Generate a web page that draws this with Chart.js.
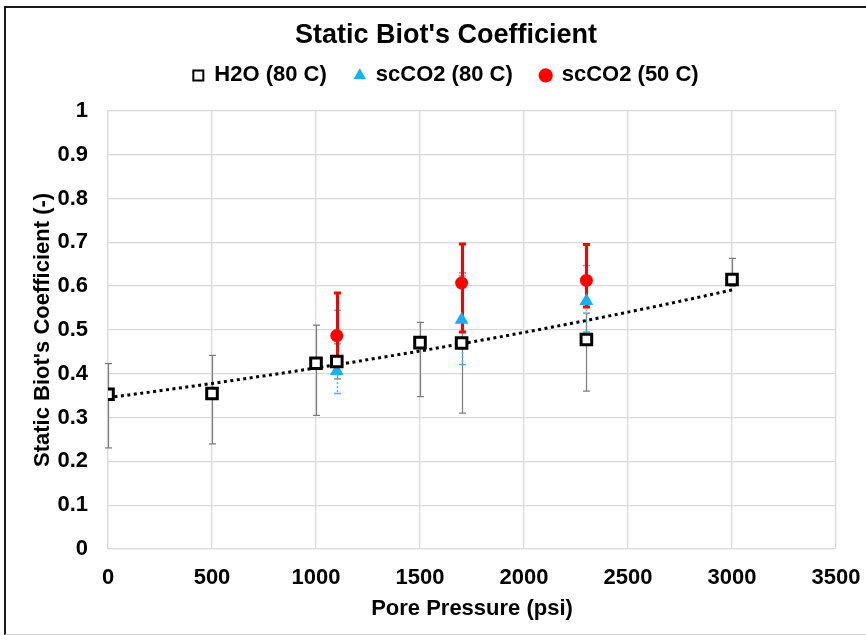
<!DOCTYPE html>
<html>
<head>
<meta charset="utf-8">
<script src="https://cdn.jsdelivr.net/npm/chart.js@4.4.1/dist/chart.umd.min.js"></script>
<style>
  html, body { margin: 0; padding: 0; background: #fff; }
  #wrap { position: relative; width: 866px; height: 635px; }
  #frame { position: absolute; left: 4px; top: 6px; width: 870px; height: 626px;
           border-left: 2px solid #1a1a1a; border-top: 2px solid #1a1a1a; border-bottom: 1px solid #d4d4d4;
           pointer-events: none; }
</style>
</head>
<body>
<div id="wrap">
  <canvas id="biotChart" width="866" height="635"></canvas>
  <div id="frame"></div>
</div>
<script>
// pore pressure (psi) and static Biot's coefficient
var pressureH2O = [0, 500, 1000, 1100, 1500, 1700, 2300, 3000];
var biotH2O = [0.353, 0.355, 0.424, 0.428, 0.471, 0.470, 0.478, 0.615];
var errUpH2O = [0.070, 0.087, 0.087, 0.040, 0.046, 0.160, 0.060, 0.048];
var errDownH2O = [0.122, 0.115, 0.119, 0.040, 0.123, 0.160, 0.118, 0.015];

var pressureCO2 = [1100, 1700, 2300];
var biotCO2_80 = [0.406, 0.523, 0.566];
var errUpCO2_80 = [0.139, 0.100, 0.081];
var errDownCO2_80 = [0.051, 0.102, 0.071];
var biotCO2_50 = [0.487, 0.607, 0.613];
var errUpCO2_50 = [0.097, 0.089, 0.082];
var errDownCO2_50 = [0.050, 0.112, 0.061];

var seriesNames = ["H2O (80 C)", "scCO2 (80 C)", "scCO2 (50 C)"];
var xStep = 500, xMax = 3500;
var yStep = 0.1, yMax = 1;

function toPoints(xs, ys) {
    return xs.map(function (v, i) { return {x: v, y: ys[i]}; });
}

// exponential trendline fitted to the H2O points (least squares on ln y, like Excel)
function expFit(xs, ys) {
    var n = xs.length, mx = 0, my = 0;
    for (var i = 0; i < n; i++) { mx += xs[i]; my += Math.log(ys[i]); }
    mx /= n; my /= n;
    var sxy = 0, sxx = 0;
    for (var j = 0; j < n; j++) {
        sxy += (xs[j] - mx) * (Math.log(ys[j]) - my);
        sxx += (xs[j] - mx) * (xs[j] - mx);
    }
    var b = sxy / sxx;
    return {a: Math.exp(my - b * mx), b: b};
}
var fit = expFit(pressureH2O, biotH2O);
var trendPoints = [];
for (var p = pressureH2O[0]; p <= pressureH2O[pressureH2O.length - 1]; p += 100) {
    trendPoints.push({x: p, y: fit.a * Math.exp(fit.b * p)});
}

var errorBars = {
    id: 'errorBars',
    beforeDatasetsDraw: function (chart) {
        var ctx = chart.ctx, xs = chart.scales.x, ys = chart.scales.y;
        chart.data.datasets.forEach(function (ds) {
            if (!ds.errUp) return;
            ctx.save();
            ctx.strokeStyle = ds.errColor;
            ctx.lineWidth = ds.errWidth;
            ds.data.forEach(function (pt, i) {
                var px = Math.round(xs.getPixelForValue(pt.x)) + 0.5;
                var top = ys.getPixelForValue(pt.y + ds.errUp[i]);
                var bot = ys.getPixelForValue(pt.y - ds.errDown[i]);
                ctx.setLineDash(ds.errDash || []);
                ctx.beginPath();
                ctx.moveTo(px, top); ctx.lineTo(px, bot);
                ctx.stroke();
                ctx.setLineDash([]);
                ctx.beginPath();
                ctx.moveTo(px - ds.errCap, top); ctx.lineTo(px + ds.errCap, top);
                ctx.moveTo(px - ds.errCap, bot); ctx.lineTo(px + ds.errCap, bot);
                ctx.stroke();
            });
            ctx.restore();
        });
    }
};

var fontFamily = "'Liberation Sans', Arial, sans-serif";
var boldFont = { family: fontFamily, size: 22, weight: 'bold' };

var biotChart = new Chart(document.getElementById('biotChart'), {
    type: 'scatter',
    data: {
        datasets: [
        {
            label: seriesNames[0],
            data: toPoints(pressureH2O, biotH2O),
            pointStyle: 'rect',
            pointRadius: 7.5,
            borderWidth: 3,
            borderColor: '#000',
            backgroundColor: '#fff',
            errUp: errUpH2O, errDown: errDownH2O,
            errColor: '#7f7f7f', errWidth: 1.25, errCap: 3.5
        },
        {
            label: seriesNames[1],
            data: toPoints(pressureCO2, biotCO2_80),
            pointStyle: 'triangle',
            pointRadius: 8,
            borderWidth: 0,
            borderColor: '#14b1ec',
            backgroundColor: '#14b1ec',
            errUp: errUpCO2_80, errDown: errDownCO2_80,
            errColor: '#3cb9ee', errWidth: 1.5, errCap: 3.5, errDash: [2, 2]
        },
        {
            label: seriesNames[2],
            data: toPoints(pressureCO2, biotCO2_50),
            pointStyle: 'circle',
            pointRadius: 6.5,
            borderWidth: 0,
            borderColor: '#ff0000',
            backgroundColor: '#ff0000',
            errUp: errUpCO2_50, errDown: errDownCO2_50,
            errColor: '#ff0000', errWidth: 3, errCap: 3.5
        },
        {
            label: 'trend',
            type: 'line',
            data: trendPoints,
            showLine: true,
            pointRadius: 0,
            borderColor: '#000',
            borderWidth: 3,
            borderDash: [3, 3.5],
            tension: 0,
            fill: false
        }]
    },
    plugins: [errorBars],
    options: {
        responsive: false,
        animation: false,
        layout: { padding: { left: 34, right: 8, top: 0, bottom: 8 } },
        plugins: {
            title: {
                display: true,
                text: "Static Biot's Coefficient",
                color: '#000',
                font: { family: fontFamily, size: 27, weight: 'bold' },
                padding: { top: 19, bottom: -15 }
            },
            // empty spacer between legend and plot area
            subtitle: {
                display: true,
                text: ' ',
                weight: 500,
                font: { size: 2 },
                padding: { top: 6, bottom: 6 }
            },
            legend: {
                display: true,
                labels: {
                    usePointStyle: true,
                    boxWidth: 10,
                    boxHeight: 10,
                    padding: 28,
                    color: '#000',
                    font: boldFont,
                    filter: function (item) { return item.text !== 'trend'; },
                    generateLabels: function (chart) {
                        var items = Chart.defaults.plugins.legend.labels.generateLabels(chart);
                        items.forEach(function (it) { if (it.datasetIndex === 0) it.lineWidth = 2; });
                        return items;
                    }
                }
            },
            tooltip: { enabled: false }
        },
        scales: {
            x: {
                type: 'linear',
                min: 0, max: xMax,
                afterFit: function (scale) {
                    scale.height = 78;
                    scale.paddingLeft = 0;
                    scale.paddingRight = 30;
                },
                ticks: { stepSize: xStep, padding: 16, color: '#000', font: boldFont,
                         callback: function (v) { return String(v); } },
                grid: { color: '#d9d9d9', lineWidth: 1.25, drawTicks: false },
                border: { color: '#d9d9d9', width: 1.25 },
                title: { display: true, text: 'Pore Pressure (psi)', color: '#000', font: boldFont,
                         padding: { top: 0, bottom: 5 } }
            },
            y: {
                type: 'linear',
                min: 0, max: yMax,
                afterFit: function (scale) { scale.width = 74; },
                ticks: { stepSize: yStep, padding: 20, color: '#000', font: boldFont,
                         callback: function (v) { return String(Math.round(v * 10) / 10); } },
                grid: { color: '#d9d9d9', lineWidth: 1.25, drawTicks: false },
                border: { color: '#d9d9d9', width: 1.25 },
                title: { display: true, text: "Static Biot's Coefficient (-)", color: '#000', font: boldFont,
                         padding: { top: -4, bottom: 0 } }
            }
        }
    }
});
</script>
</body>
</html>
